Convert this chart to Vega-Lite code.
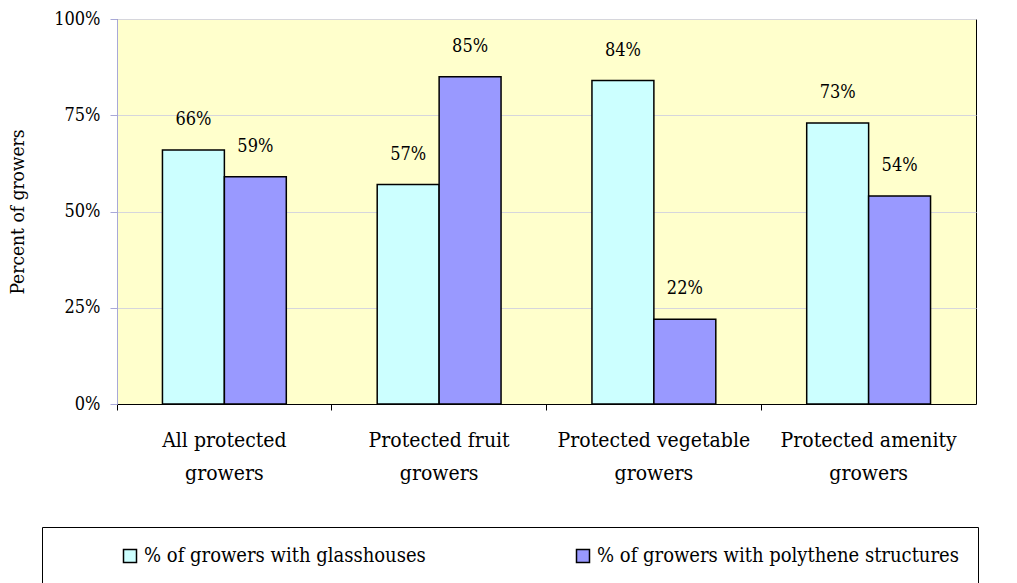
{
  "$schema": "https://vega.github.io/schema/vega-lite/v6.json",
  "width": 859,
  "height": 385,
  "autosize": {"type": "none"},
  "padding": {"left": 117, "top": 19, "right": 41, "bottom": 179},
  "background": "white",
  "config": {
    "font": "DejaVu Serif Condensed, DejaVu Serif",
    "view": {"fill": "#FFFFCC", "stroke": "#000000", "strokeWidth": 1}
  },
  "data": {
    "values": [
      {"group": "All protected growers", "series": "% of growers with glasshouses", "value": 0.66},
      {"group": "All protected growers", "series": "% of growers with polythene structures", "value": 0.59},
      {"group": "Protected fruit growers", "series": "% of growers with glasshouses", "value": 0.57},
      {"group": "Protected fruit growers", "series": "% of growers with polythene structures", "value": 0.85},
      {"group": "Protected vegetable growers", "series": "% of growers with glasshouses", "value": 0.84},
      {"group": "Protected vegetable growers", "series": "% of growers with polythene structures", "value": 0.22},
      {"group": "Protected amenity growers", "series": "% of growers with glasshouses", "value": 0.73},
      {"group": "Protected amenity growers", "series": "% of growers with polythene structures", "value": 0.54}
    ]
  },
  "encoding": {
    "x": {
      "field": "group",
      "type": "nominal",
      "sort": null,
      "scale": {"paddingInner": 0, "paddingOuter": 0},
      "axis": {
        "title": null,
        "labelAngle": 0,
        "labelFontSize": 21,
        "labelColor": "black",
        "labelPadding": 19,
        "labelLineHeight": 33,
        "labelBaseline": "top",
        "labelLimit": 0,
        "labelExpr": "[slice(datum.label, 0, lastindexof(datum.label, ' ')), slice(datum.label, lastindexof(datum.label, ' ') + 1)]",
        "tickSize": 6,
        "tickColor": "black",
        "domainColor": "black",
        "bandPosition": 0,
        "grid": false
      }
    },
    "xOffset": {
      "field": "series",
      "type": "nominal",
      "sort": ["% of growers with glasshouses", "% of growers with polythene structures"],
      "scale": {"paddingInner": 0, "paddingOuter": 0.734}
    },
    "y": {
      "field": "value",
      "type": "quantitative",
      "scale": {"domain": [0, 1], "nice": false},
      "axis": {
        "values": [0, 0.25, 0.5, 0.75, 1],
        "format": ".0%",
        "title": "Percent of growers",
        "titleFontSize": 19,
        "titleFontWeight": "normal",
        "titleColor": "black",
        "titlePadding": 26,
        "labelFontSize": 18,
        "labelColor": "black",
        "labelPadding": 10,
        "tickSize": 7,
        "tickColor": "#A8A8D8",
        "domainColor": "#A8A8D8",
        "grid": true,
        "gridColor": "#D6D6DC"
      }
    }
  },
  "layer": [
    {
      "mark": {"type": "bar", "stroke": "black", "strokeWidth": 1.5},
      "encoding": {
        "color": {
          "field": "series",
          "type": "nominal",
          "scale": {
            "domain": ["% of growers with glasshouses", "% of growers with polythene structures"],
            "range": ["#CCFFFF", "#9999FF"]
          },
          "legend": {
            "orient": "none",
            "legendX": -75,
            "legendY": 508,
            "direction": "horizontal",
            "columns": 2,
            "columnPadding": 147,
            "padding": 19,
            "strokeColor": "black",
            "fillColor": "white",
            "title": "\u00a0",
            "titleOrient": "left",
            "titleFontSize": 1,
            "titlePadding": 59,
            "symbolType": "square",
            "symbolSize": 169,
            "symbolStrokeColor": "black",
            "symbolStrokeWidth": 1.5,
            "symbolOpacity": 1,
            "labelOffset": 4,
            "labelFontSize": 20,
            "labelColor": "black",
            "labelLimit": 0,
            "labelExpr": "datum.label == '% of growers with polythene structures' ? datum.label + '\u2003\u2003\u2003\u2003' : datum.label"
          }
        }
      }
    },
    {
      "mark": {"type": "text", "baseline": "middle", "dy": -30, "fontSize": 18, "color": "black"},
      "encoding": {
        "text": {"field": "value", "type": "quantitative", "format": ".0%"}
      }
    }
  ]
}
